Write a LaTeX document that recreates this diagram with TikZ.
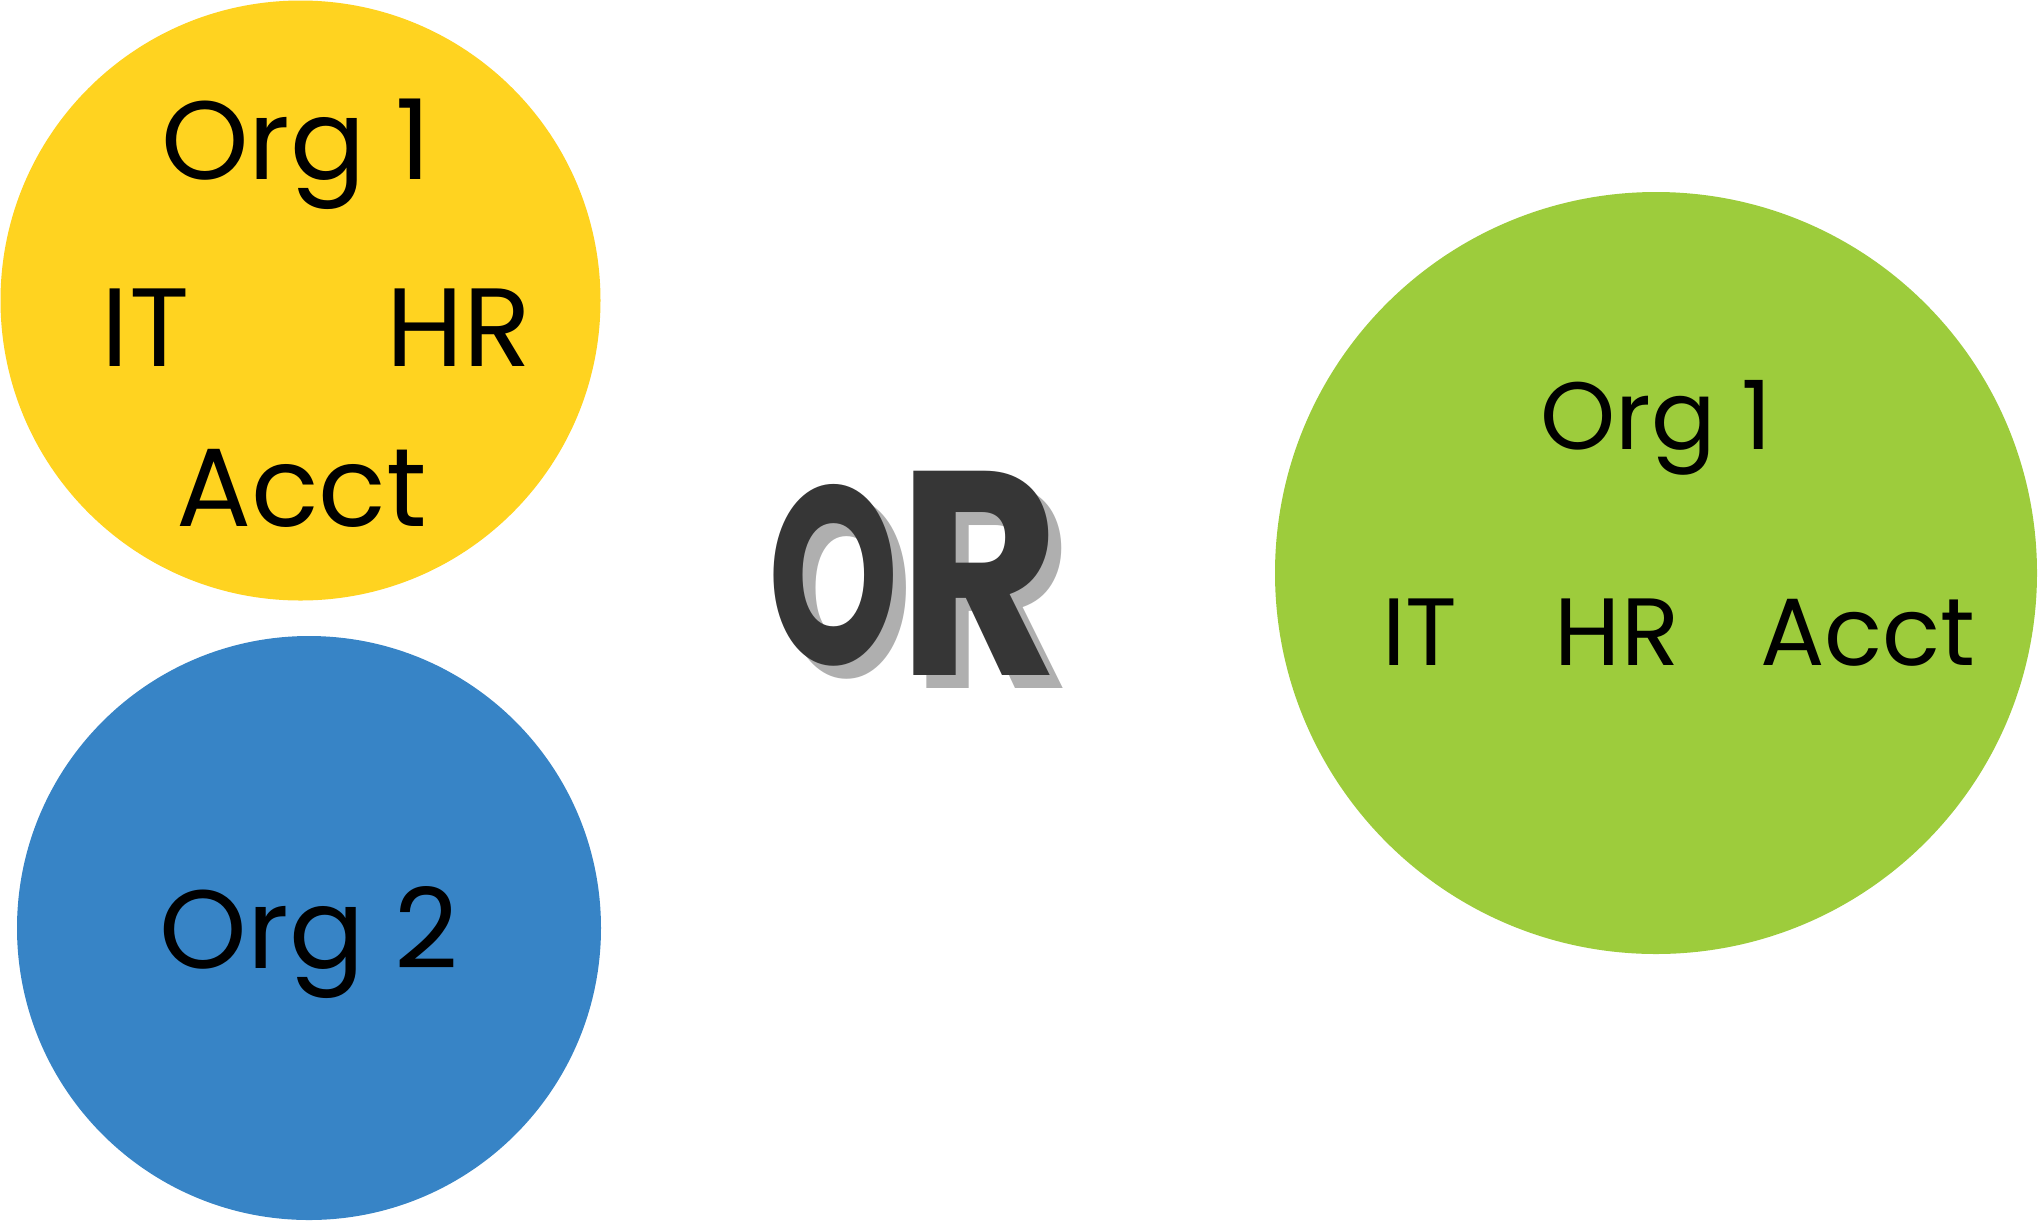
\documentclass[tikz,border=0pt]{standalone}
\usepackage{fontspec}
\setmainfont{Poppins}
\definecolor{orgyellow}{HTML}{FFD320}
\definecolor{orgblue}{HTML}{3784C6}
\definecolor{orggreen}{HTML}{9DCC3C}
\definecolor{ordark}{HTML}{363636}
\definecolor{orshade}{HTML}{AFAFAF}
\newcommand{\orletters}{\scalebox{0.61}[0.93]{O}\raisebox{-5.5pt}{\scalebox{0.91}[1.07]{R}}}
\begin{document}
\begin{tikzpicture}[x=0.5pt,y=-0.5pt,
  orgcircle/.style={circle, inner sep=0pt, draw=none},
  biglbl/.style={font=\fontsize{55.7}{60}\selectfont, text=black, inner sep=0pt, anchor=base},
  smalllbl/.style={font=\fontsize{47.8}{52}\selectfont, text=black, inner sep=0pt, anchor=base},
  orword/.style={font=\bfseries\fontsize{136}{140}\selectfont, inner sep=0pt, anchor=base}]
\useasboundingbox (0,0) rectangle (2040,1222);
% circles
\node[orgcircle, fill=orgyellow, minimum size=300pt] (yellow) at (300.5,300.5) {};
\node[orgcircle, fill=orgblue, minimum size=292pt] (blue) at (309,928) {};
\node[orgcircle, fill=orggreen, minimum size=381pt] (green) at (1656,573) {};
% yellow labels
\node[biglbl] (y-org) at (296,179) {Org 1};
\node[biglbl] (y-it) at (145.5,366) {IT};
\node[biglbl] (y-hr) at (459,366) {HR};
\node[biglbl] (y-acct) at (301.5,526) {Acct};
% blue label
\node[biglbl] (b-org) at (309,968) {Org 2};
% green labels
\node[smalllbl] (g-org) at (1656,449) {Org 1};
\node[smalllbl] (g-it) at (1420,665) {IT};
\node[smalllbl] (g-hr) at (1617,665) {HR};
\node[smalllbl] (g-acct) at (1868,665) {Acct};
% OR with shadow
\node[orword, text=orshade] (or-shadow) at (927,677) {\orletters};
\node[orword, text=ordark] (or-main) at (914,664) {\orletters};
\end{tikzpicture}
\end{document}
